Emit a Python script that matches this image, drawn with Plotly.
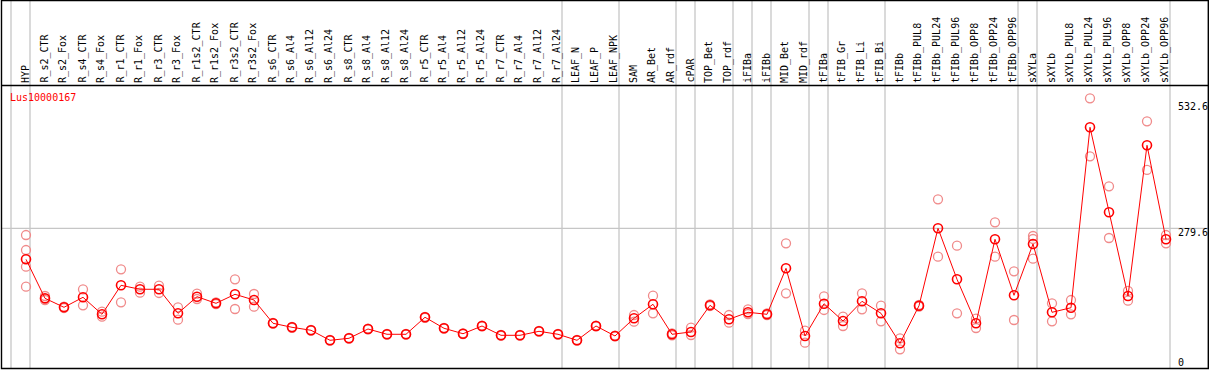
import plotly.graph_objects as go

# ---------------- data ----------------
gene_id = "Lus10000167"

categories = [
    "HYP", "R_s2_CTR", "R_s2_Fox", "R_s4_CTR", "R_s4_Fox", "R_r1_CTR", "R_r1_Fox",
    "R_r3_CTR", "R_r3_Fox", "R_r1s2_CTR", "R_r1s2_Fox", "R_r3s2_CTR", "R_r3s2_Fox",
    "R_s6_CTR", "R_s6_Al4", "R_s6_Al12", "R_s6_Al24", "R_s8_CTR", "R_s8_Al4",
    "R_s8_Al12", "R_s8_Al24", "R_r5_CTR", "R_r5_Al4", "R_r5_Al12", "R_r5_Al24",
    "R_r7_CTR", "R_r7_Al4", "R_r7_Al12", "R_r7_Al24", "LEAF_N", "LEAF_P", "LEAF_NPK",
    "SAM", "AR_Bet", "AR_rdf", "cPAR", "TOP_Bet", "TOP_rdf", "iFIBa", "iFIBb",
    "MID_Bet", "MID_rdf", "tFIBa", "tFIB_Gr", "tFIB_Li", "tFIB_Bi", "tFIBb",
    "tFIBb_PUL8", "tFIBb_PUL24", "tFIBb_PUL96", "tFIBb_OPP8", "tFIBb_OPP24",
    "tFIBb_OPP96", "sXYLa", "sXYLb", "sXYLb_PUL8", "sXYLb_PUL24", "sXYLb_PUL96",
    "sXYLb_OPP8", "sXYLb_OPP24", "sXYLb_OPP96",
]

mean_values = [
    219.3, 143.4, 125.9, 145.4, 112.3, 168.7, 161.0, 161.0, 114.2, 146.6, 133.7, 151.2, 140.1,
    94.8, 87.0, 81.2, 61.7, 65.6, 83.7, 73.4, 73.4, 106.5, 85.1, 74.5, 89.5, 71.4, 71.4, 79.2,
    73.4, 61.7, 89.5, 70.1,
    104.5, 131.8, 73.4, 77.9, 129.8, 102.6, 116.2, 112.3, 201.8, 70.1, 132.9, 99.3, 137.6, 114.2,
    55.9, 129.0, 279.7, 180.4, 94.8, 258.3, 149.3, 249.1, 116.2, 125.1, 476.3, 310.8, 147.9,
    441.2, 258.3,
]

replicate_values = [
    [266.6, 237.4, 204.9, 166.0], [147.9, 140.1, 142.2], [127.1, 124.6], [161.0, 129.8],
    [117.4, 107.6], [199.9, 135.7], [166.0, 154.3], [168.0, 153.8], [125.9, 101.8],
    [152.4, 142.1], [135.3, 132.3], [180.4, 122.6], [151.8, 127.1],
    [95.6, 94.0], [87.9, 86.1], [82.0, 80.4], [62.5, 60.9], [66.4, 64.8], [84.6, 82.8],
    [74.2, 72.6], [74.0, 72.8], [107.4, 105.6], [85.9, 84.3], [75.3, 73.7], [90.3, 88.7],
    [72.2, 70.6], [72.0, 70.8], [80.0, 78.4], [74.2, 72.6], [62.5, 60.9], [90.3, 88.7],
    [70.9, 69.3],
    [110.9, 97.9], [148.5, 114.2], [75.3, 71.4], [86.2, 72.0], [131.8, 128.5], [110.9, 96.0],
    [122.0, 112.9], [113.9, 110.9], [250.5, 153.2], [80.4, 57.0], [147.3, 120.7],
    [107.6, 89.5], [153.2, 122.0], [129.0, 98.7],
    [65.6, 44.2], [130.4, 127.5], [336.1, 224.4], [245.8, 114.2], [103.7, 85.6],
    [291.4, 224.4], [196.0, 101.2], [264.7, 258.9, 220.5], [133.7, 98.7], [140.1, 112.3],
    [532.6, 419.8], [361.4, 260.8], [157.7, 138.8], [487.9, 393.2], [266.6, 250.5],
]

# last category index of each group (a separator follows it); -1 = before the first
group_ends = [-1, 0, 28, 31, 34, 35, 37, 38, 39, 41, 42, 45, 52, 53, 60]

axis_labels = ["532.6", "279.6", "0"]
grid_value = 279.6

# ---------------- layout constants (pixels) ----------------
W, H = 1209, 370
PX_PER_CAT = 19.0
FIRST_X_PX = 26.0
ZERO_Y_PX = 372.0
PX_PER_UNIT = 0.5138
HEADER_Y_PX = 85.5
LABEL_BOTTOM_PX = 84.0
AXIS_LABEL_X_PX = 1177.0
AXIS_LABEL_Y_PX = [107.0, 232.5, 362.0]
SEP_OFFSET = 4.0 / PX_PER_CAT

x_lo = -FIRST_X_PX / PX_PER_CAT
x_hi = x_lo + W / PX_PER_CAT
y_lo = (ZERO_Y_PX - H) / PX_PER_UNIT
y_hi = ZERO_Y_PX / PX_PER_UNIT


def py(px):  # pixel row -> paper y
    return 1 - px / H


def pxx(px):  # pixel col -> paper x
    return px / W


MONO = "DejaVu Sans Mono"
GRID = "#c6c6c6"

fig = go.Figure()

rx, ry = [], []
for i, reps in enumerate(replicate_values):
    for v in reps:
        rx.append(i)
        ry.append(v)

fig.add_trace(go.Scatter(
    x=rx, y=ry, mode="markers",
    marker=dict(symbol="circle-open", size=9, color="#f08a8a", line=dict(width=1.3, color="#f08a8a")),
    hoverinfo="skip", showlegend=False,
))
fig.add_trace(go.Scatter(
    x=list(range(len(categories))), y=mean_values, mode="lines+markers",
    line=dict(color="#ff0000", width=1),
    marker=dict(symbol="circle-open", size=9, color="#ff0000", line=dict(width=1.6, color="#ff0000")),
    text=categories, showlegend=False,
))

shapes = []
# vertical separators (full height)
for g in group_ends:
    shapes.append(dict(type="line", xref="x", yref="paper", x0=g + SEP_OFFSET, x1=g + SEP_OFFSET,
                       y0=py(368.5), y1=py(0.5), line=dict(color=GRID, width=1.3), layer="below"))
# horizontal grid line
shapes.append(dict(type="line", xref="paper", yref="y", x0=pxx(1.5), x1=pxx(1208), y0=grid_value, y1=grid_value,
                   line=dict(color=GRID, width=1.3), layer="below"))
# header line
shapes.append(dict(type="line", xref="paper", yref="paper", x0=pxx(1.5), x1=pxx(1208.3),
                   y0=py(HEADER_Y_PX), y1=py(HEADER_Y_PX), line=dict(color="black", width=1.3)))
# frame
shapes.append(dict(type="rect", xref="paper", yref="paper", x0=pxx(1.5), x1=pxx(1208.3),
                   y0=py(368.5), y1=py(0.5), line=dict(color="black", width=1.4)))

annotations = []
for i, name in enumerate(categories):
    annotations.append(dict(
        x=i - 0.05, xref="x", y=py(LABEL_BOTTOM_PX), yref="paper", text=name, textangle=-90,
        showarrow=False, xanchor="center", yanchor="bottom", borderpad=0,
        font=dict(family=MONO, size=10, color="black"),
    ))
annotations.append(dict(
    x=pxx(8.5), y=py(97), xref="paper", yref="paper", text=gene_id, showarrow=False,
    xanchor="left", yanchor="middle", borderpad=0, font=dict(family=MONO, size=10, color="#ff0000"),
))
for lab, ypx in zip(axis_labels, AXIS_LABEL_Y_PX):
    annotations.append(dict(
        x=pxx(AXIS_LABEL_X_PX), y=py(ypx), xref="paper", yref="paper", text=lab, showarrow=False,
        xanchor="left", yanchor="middle", borderpad=0, font=dict(family=MONO, size=10, color="black"),
    ))

fig.update_layout(
    width=W, height=H, margin=dict(l=0, r=0, t=0, b=0),
    paper_bgcolor="white", plot_bgcolor="white",
    xaxis=dict(range=[x_lo, x_hi], visible=False, fixedrange=True),
    yaxis=dict(range=[y_lo, y_hi], visible=False, fixedrange=True),
    shapes=shapes, annotations=annotations,
)

fig.write_html(
    "out.html",
    config={"displayModeBar": False},
    post_script="document.body.style.margin='0';document.body.style.overflow='hidden';",
)
